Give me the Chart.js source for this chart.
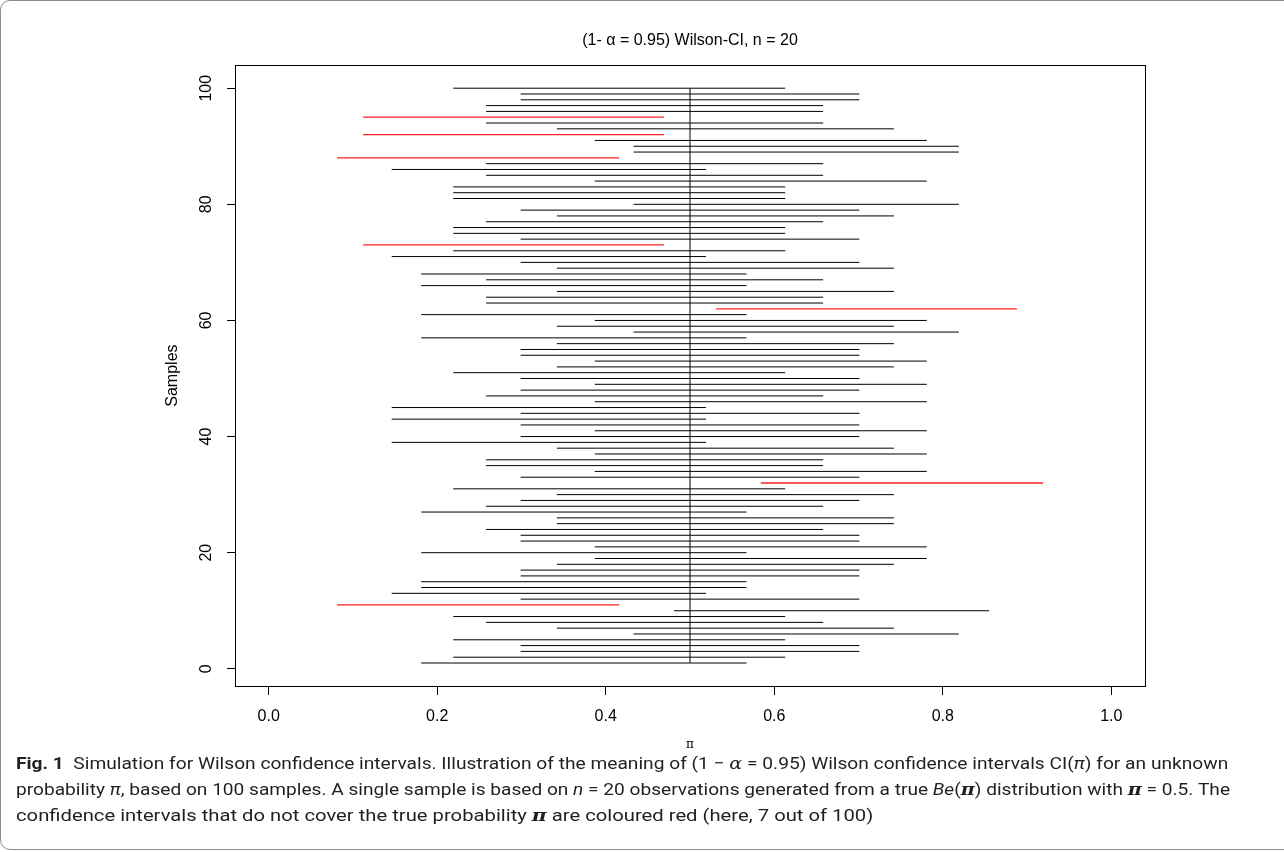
<!DOCTYPE html>
<html>
<head>
<meta charset="utf-8">
<title>Wilson-CI simulation</title>
<script src="https://cdn.jsdelivr.net/npm/chart.js@4/dist/chart.umd.min.js"></script>
<style>
    html, body { margin: 0; padding: 0; background: #fff; overflow: hidden; }
    body { width: 1284px; height: 852px; position: relative; }
    .frame {
        position: absolute; left: 0; top: 0; width: 1300px; height: 848px;
        border: 1px solid #8c8c8c; border-radius: 10px;
    }
    #wilson { position: absolute; left: 0; top: 0; }
    .cap {
        position: absolute; left: 16px; white-space: nowrap;
        font-family: "Roboto", "Liberation Sans", sans-serif;
        font-size: 17px; line-height: 26px; color: #231f20;
        transform-origin: 0 50%;
    }
    .cap b { font-weight: bold; }
    .m { font-family: "DejaVu Serif", serif; font-style: italic; }
</style>
</head>
<body>
<div class="frame"></div>
<canvas id="wilson" width="1284" height="770"></canvas>
<div class="cap" data-w="1212" style="top:750px"><b>Fig. 1</b>&nbsp; Simulation for Wilson confidence intervals. Illustration of the meaning of (1 − <span class="m">α</span> = 0.95) Wilson confidence intervals CI(<i>π</i>) for an unknown</div>
<div class="cap" data-w="1214" style="top:776px">probability <i>π</i>, based on 100 samples. A single sample is based on <i>n</i> = 20 observations generated from a true <i>Be</i>(<span class="m"><b>π</b></span>) distribution with <span class="m"><b>π</b></span> = 0.5. The</div>
<div class="cap" data-w="857" style="top:802px">confidence intervals that do not cover the true probability <span class="m"><b>π</b></span> are coloured red (here, 7 out of 100)</div>
<script>
// sample number 1..100 (y axis)
const samples = Array.from({ length: 100 }, (_, i) => i + 1)

// lower / upper bounds of each interval (sample 1 first)
const lower = [
    0.181, 0.219, 0.299, 0.299, 0.219, 0.433, 0.342, 0.258, 0.219, 0.481,
    0.081, 0.299, 0.146, 0.181, 0.181, 0.299, 0.299, 0.342, 0.387, 0.181,
    0.387, 0.299, 0.299, 0.258, 0.342, 0.342, 0.181, 0.258, 0.299, 0.342,
    0.219, 0.584, 0.299, 0.387, 0.258, 0.258, 0.387, 0.342, 0.146, 0.299,
    0.387, 0.299, 0.146, 0.299, 0.146, 0.387, 0.258, 0.299, 0.387, 0.299,
    0.219, 0.342, 0.387, 0.299, 0.299, 0.342, 0.181, 0.433, 0.342, 0.387,
    0.181, 0.531, 0.258, 0.258, 0.342, 0.181, 0.258, 0.181, 0.342, 0.299,
    0.146, 0.219, 0.112, 0.299, 0.219, 0.219, 0.258, 0.342, 0.299, 0.433,
    0.219, 0.219, 0.219, 0.387, 0.258, 0.146, 0.258, 0.081, 0.433, 0.433,
    0.387, 0.112, 0.342, 0.258, 0.112, 0.258, 0.258, 0.299, 0.299, 0.219
]
const upper = [
    0.567, 0.613, 0.701, 0.701, 0.613, 0.819, 0.742, 0.658, 0.613, 0.855,
    0.416, 0.701, 0.519, 0.567, 0.567, 0.701, 0.701, 0.742, 0.781, 0.567,
    0.781, 0.701, 0.701, 0.658, 0.742, 0.742, 0.567, 0.658, 0.701, 0.742,
    0.613, 0.919, 0.701, 0.781, 0.658, 0.658, 0.781, 0.742, 0.519, 0.701,
    0.781, 0.701, 0.519, 0.701, 0.519, 0.781, 0.658, 0.701, 0.781, 0.701,
    0.613, 0.742, 0.781, 0.701, 0.701, 0.742, 0.567, 0.819, 0.742, 0.781,
    0.567, 0.888, 0.658, 0.658, 0.742, 0.567, 0.658, 0.567, 0.742, 0.701,
    0.519, 0.613, 0.469, 0.701, 0.613, 0.613, 0.658, 0.742, 0.701, 0.819,
    0.613, 0.613, 0.613, 0.781, 0.658, 0.519, 0.658, 0.416, 0.819, 0.819,
    0.781, 0.469, 0.742, 0.658, 0.469, 0.658, 0.658, 0.701, 0.701, 0.613
]

const piTrue = 0.5
const xTicks = [0, 0.2, 0.4, 0.6, 0.8, 1.0]
const yTicks = [0, 20, 40, 60, 80, 100]

const sans = '"Liberation Sans", Arial, sans-serif'
const tickFont = { family: sans, size: 16 }

const intervalSets = samples.map((s, i) => {
    const misses = upper[i] < piTrue || lower[i] > piTrue
    return {
        data: [{ x: lower[i], y: s }, { x: upper[i], y: s }],
        borderColor: misses ? '#ff2020' : '#000000',
        borderWidth: misses ? 1.3 : 1,
        showLine: true,
        pointRadius: 0,
    }
})

// vertical line at the true probability
intervalSets.push({
    data: [{ x: piTrue, y: samples[0] }, { x: piTrue, y: samples[samples.length - 1] }],
    borderColor: '#000000',
    borderWidth: 1,
    showLine: true,
    pointRadius: 0,
})

const boxPlugin = {
    id: 'box',
    afterDraw: (chart) => {
        const { ctx, chartArea } = chart
        ctx.save()
        ctx.strokeStyle = '#000'
        ctx.lineWidth = 1
        ctx.strokeRect(
            Math.round(chartArea.left) + 0.5, Math.round(chartArea.top) + 0.5,
            Math.round(chartArea.right - chartArea.left), Math.round(chartArea.bottom - chartArea.top)
        )
        ctx.restore()
    }
}

const options = {
    responsive: false,
    animation: false,
    events: [],
    layout: {
        padding: { left: 160, right: 139, top: 0, bottom: 0 }
    },
    plugins: {
        legend: { display: false },
        tooltip: { enabled: false },
        title: {
            display: true,
            fullSize: false,
            text: '(1- \u03b1 = 0.95) Wilson-CI, n = 20',
            color: '#000',
            font: { family: sans, size: 16, weight: 'normal' },
            padding: { top: 31, bottom: 15 }
        }
    },
    scales: {
        x: {
            type: 'linear',
            min: -0.04,
            max: 1.04,
            afterFit: (scale) => { scale.height = 84 },
            afterBuildTicks: (scale) => { scale.ticks = xTicks.map(v => ({ value: v })) },
            grid: {
                drawOnChartArea: false,
                drawTicks: true,
                tickLength: 9,
                color: '#000',
            },
            border: { display: true, color: '#000' },
            ticks: {
                color: '#000',
                font: tickFont,
                padding: 12,
                maxRotation: 0,
                callback: (value) => value.toFixed(1)
            },
            title: {
                display: true,
                text: '\u03c0',
                color: '#000',
                font: { family: '"DejaVu Serif", serif', size: 12 },
                padding: { top: 0, bottom: 18 }
            }
        },
        y: {
            type: 'linear',
            min: -2.96,
            max: 103.96,
            afterFit: (scale) => { scale.width = 75 },
            afterBuildTicks: (scale) => { scale.ticks = yTicks.map(v => ({ value: v })) },
            grid: {
                drawOnChartArea: false,
                drawTicks: true,
                tickLength: 8,
                color: '#000',
            },
            border: { display: true, color: '#000' },
            ticks: {
                color: '#000',
                font: tickFont,
                padding: 7,
                minRotation: 90,
                maxRotation: 90,
                crossAlign: 'center',
                callback: (value) => `${value}`
            },
            title: {
                display: true,
                text: 'Samples',
                color: '#000',
                font: { family: sans, size: 16 },
                padding: { top: 3, bottom: 0 }
            }
        }
    }
}

const config = {
    type: 'scatter',
    data: { datasets: intervalSets },
    options: options,
    plugins: [boxPlugin],
}

const wilsonDoc = document.getElementById('wilson')
const wilsonChart = new Chart(wilsonDoc, config)

// squeeze each caption line to the width it has in the figure
const fitCaption = () => {
    document.querySelectorAll('.cap').forEach(el => {
        const target = Number(el.dataset.w)
        el.style.transform = 'none'
        const w = el.scrollWidth
        if (w > 0) el.style.transform = `scaleX(${target / w})`
    })
}
fitCaption()
</script>
</body>
</html>
